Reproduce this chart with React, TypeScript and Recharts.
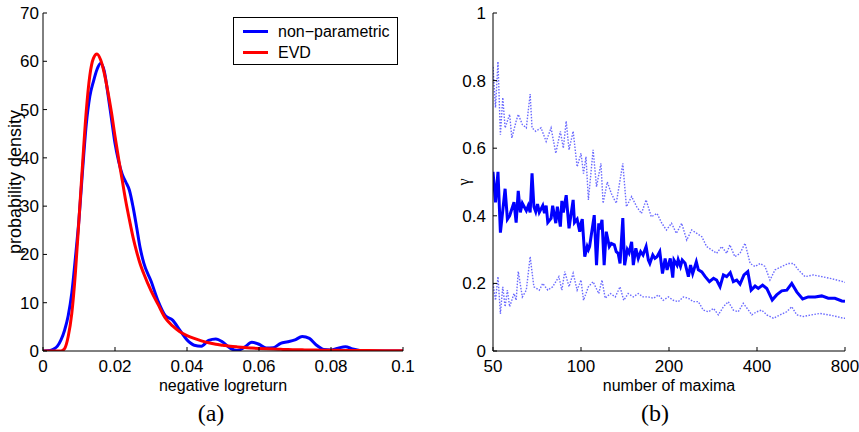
import { LineChart, Line, XAxis, YAxis, Legend, Label } from 'recharts'

const SANS = '"Liberation Sans", Arial, Helvetica, sans-serif'
const SERIF = '"Liberation Serif", "Times New Roman", serif'

// (a) density of negative logreturns: kernel estimate vs fitted EVD
const logreturn = [
  0, 0.002, 0.003, 0.004, 0.005, 0.006, 0.007, 0.008, 0.009,
  0.01, 0.011, 0.012, 0.013, 0.014, 0.015, 0.016, 0.017, 0.018, 0.019, 0.02,
  0.021, 0.022, 0.023, 0.024, 0.025, 0.026, 0.027, 0.028,
  0.03, 0.032, 0.034, 0.036, 0.038, 0.04, 0.042, 0.044, 0.046, 0.048, 0.05,
  0.052, 0.054, 0.056, 0.058, 0.06, 0.062, 0.064, 0.066, 0.068, 0.07,
  0.072, 0.074, 0.076, 0.078, 0.08, 0.082, 0.084, 0.086, 0.088, 0.09,
  0.095, 0.1,
]
const nonParametric = [
  0, 0.1, 0.4, 1.0, 2.3, 4.3, 7.3, 12.0, 19.3,
  27.3, 37.5, 46.8, 52.7, 55.8, 58.3, 59.6, 58.0, 53.4, 48.2, 43.0,
  39.3, 36.6, 35.0, 33.3, 29.9, 25.7, 21.3, 18.2,
  14.5, 10.3, 7.3, 6.4, 4.3, 2.3, 1.2, 1.0, 2.2, 2.5, 1.8,
  0.6, 0.1, 0.8, 1.8, 1.4, 0.6, 0.7, 1.6, 1.9, 2.3,
  3.0, 2.6, 1.2, 0.3, 0.2, 0.6, 0.9, 0.4, 0.1, 0,
  0, 0,
]
const evd = [
  0, 0, 0, 0, 0, 0.5, 3.0, 7.8, 16.2,
  27.3, 38.8, 49.5, 57.0, 60.6, 61.5, 60.3, 57.6, 53.8, 49.5, 44.5,
  39.8, 35.4, 31.0, 27.2, 23.6, 20.6, 18.0, 16.0,
  12.5, 9.6, 6.8, 5.2, 4.0, 3.2, 2.6, 2.1, 1.7, 1.4, 1.2,
  1.0, 0.85, 0.72, 0.62, 0.53, 0.46, 0.4, 0.35, 0.3, 0.27,
  0.24, 0.21, 0.19, 0.17, 0.15, 0.13, 0.12, 0.1, 0.09, 0.08,
  0.06, 0.05,
]
const densityTicksX = [0, 0.02, 0.04, 0.06, 0.08, 0.1]
const densityTicksY = [0, 10, 20, 30, 40, 50, 60, 70]
const legendOrder = ['np', 'evd']

// (b) gamma estimate vs number of maxima, with dotted bounds
const maximaN = [
  50, 51, 52, 53, 55, 56, 57, 59, 60, 61, 62, 63, 65, 66, 67, 68, 69, 70, 71, 72,
  74, 75, 76, 77, 79, 80, 82, 83, 85, 86, 87, 89, 91, 94, 95, 97, 99, 100, 101, 103,
  105, 106, 107, 111, 113, 115, 116, 118, 120, 122, 125, 127, 130, 132, 134, 136, 139, 141, 144, 146,
  149, 151, 154, 157, 160, 163, 167, 170, 172, 176, 179, 182, 186, 190, 194, 197, 202, 206, 208, 213,
  215, 219, 222, 227, 233, 237, 241, 248, 252, 259, 266, 275, 284, 291, 299, 307, 315, 324, 332, 341,
  350, 361, 372, 382, 394, 404, 418, 432, 451, 467, 486, 506, 526, 547, 573, 599, 632, 666, 701, 739,
  780, 800,
]
const gamma = [
  0.53, 0.44, 0.53, 0.35, 0.48, 0.39, 0.4, 0.44, 0.38, 0.474, 0.41, 0.437, 0.415, 0.43, 0.41, 0.526, 0.427, 0.412, 0.435, 0.41,
  0.43, 0.408, 0.43, 0.38, 0.392, 0.43, 0.378, 0.427, 0.368, 0.444, 0.41, 0.461, 0.363, 0.447, 0.38, 0.39, 0.353, 0.378, 0.39, 0.279,
  0.309, 0.3, 0.309, 0.402, 0.254, 0.378, 0.36, 0.388, 0.254, 0.353, 0.309, 0.318, 0.314, 0.294, 0.289, 0.259, 0.393, 0.254, 0.3, 0.29,
  0.323, 0.254, 0.304, 0.274, 0.294, 0.284, 0.309, 0.269, 0.259, 0.284, 0.274, 0.279, 0.294, 0.229, 0.274, 0.24, 0.274, 0.217, 0.269, 0.254,
  0.27, 0.25, 0.269, 0.26, 0.22, 0.254, 0.229, 0.264, 0.24, 0.234, 0.22, 0.205, 0.215, 0.21, 0.19, 0.225, 0.22, 0.232, 0.205, 0.21,
  0.198, 0.225, 0.235, 0.18, 0.192, 0.185, 0.195, 0.185, 0.151, 0.166, 0.178, 0.18, 0.2, 0.175, 0.154, 0.16, 0.16, 0.163, 0.156, 0.156,
  0.148, 0.147,
]
const upperN = [
  50, 51, 52, 53, 54, 55, 57, 58, 60, 61, 63, 65, 67, 68, 70, 73, 76, 79, 82, 85,
  87, 89, 91, 94, 97, 100, 102, 104, 106, 110, 113, 117, 119, 123, 127, 132, 139, 143, 149, 155,
  161, 167, 174, 182, 189, 196, 204, 212, 221, 230, 239, 249, 259, 269, 280, 291, 303, 315, 323, 336,
  350, 364, 379, 394, 410, 426, 443, 461, 486, 512, 533, 554, 584, 623, 666, 711, 749, 790, 800,
]
const gammaUpper = [
  0.84, 0.72, 0.856, 0.64, 0.75, 0.66, 0.7, 0.63, 0.68, 0.7, 0.67, 0.66, 0.76, 0.66, 0.65, 0.66, 0.62, 0.66, 0.585, 0.65,
  0.6, 0.68, 0.595, 0.65, 0.545, 0.585, 0.525, 0.575, 0.447, 0.595, 0.486, 0.555, 0.437, 0.5, 0.466, 0.437, 0.555, 0.427, 0.457, 0.427,
  0.407, 0.447, 0.397, 0.407, 0.378, 0.358, 0.378, 0.348, 0.378, 0.328, 0.358, 0.348, 0.338, 0.309, 0.299, 0.289, 0.309, 0.289, 0.314, 0.279,
  0.289, 0.319, 0.259, 0.25, 0.259, 0.25, 0.21, 0.24, 0.25, 0.259, 0.259, 0.24, 0.22, 0.225, 0.22, 0.215, 0.21, 0.205, 0.203,
]
const lowerN = [
  50, 51, 52, 53, 54, 55, 56, 57, 59, 60, 61, 63, 65, 67, 69, 72, 74, 77, 80, 84,
  86, 88, 91, 94, 97, 100, 102, 106, 110, 115, 118, 121, 126, 131, 136, 140, 145, 151, 157, 163,
  170, 177, 184, 191, 199, 207, 215, 224, 233, 242, 252, 262, 273, 284, 295, 307, 319, 332, 345, 359,
  374, 384, 399, 415, 432, 455, 480, 505, 526, 547, 576, 615, 657, 702, 749, 790, 800,
]
const gammaLower = [
  0.2, 0.15, 0.22, 0.11, 0.19, 0.131, 0.18, 0.131, 0.17, 0.15, 0.235, 0.16, 0.18, 0.279, 0.19, 0.18, 0.2, 0.18, 0.19, 0.22,
  0.18, 0.235, 0.19, 0.23, 0.18, 0.21, 0.15, 0.19, 0.205, 0.17, 0.21, 0.156, 0.17, 0.16, 0.19, 0.15, 0.17, 0.16, 0.17, 0.16,
  0.16, 0.156, 0.166, 0.15, 0.16, 0.15, 0.146, 0.16, 0.156, 0.146, 0.146, 0.121, 0.116, 0.126, 0.107, 0.131, 0.146, 0.121, 0.116, 0.141,
  0.121, 0.107, 0.116, 0.121, 0.107, 0.097, 0.107, 0.116, 0.131, 0.107, 0.102, 0.107, 0.111, 0.107, 0.102, 0.097, 0.097,
]
const maximaTicks = [50, 100, 200, 400, 800]
const gammaTicks = [0, 0.2, 0.4, 0.6, 0.8, 1]

const densityData = logreturn.map((x, i) => ({ x, np: nonParametric[i], evd: evd[i] }))
const gammaData = maximaN.map((n, i) => ({ n, g: gamma[i] }))
const upperData = upperN.map((n, i) => ({ n, g: gammaUpper[i] }))
const lowerData = lowerN.map((n, i) => ({ n, g: gammaLower[i] }))

const tickStyle = { fill: '#000', fontSize: 17, fontFamily: SANS }
const axisLine = { stroke: '#000', strokeWidth: 1 }
const labelStyle = { fontSize: 16, fontFamily: SANS, fill: '#000' }

function BoxLegend({ payload }: any) {
  const items = [...(payload || [])].sort(
    (a: any, b: any) => legendOrder.indexOf(a.dataKey) - legendOrder.indexOf(b.dataKey)
  )
  return (
    <div
      style={{
        width: 165,
        height: 48,
        boxSizing: 'border-box',
        border: '1px solid #000',
        background: '#fff',
        padding: '3px 0 0 9px',
        fontFamily: SANS,
        fontSize: 16,
        color: '#000',
      }}
    >
      {items.map((p: any) => (
        <div key={p.value} style={{ display: 'flex', alignItems: 'center', height: 21 }}>
          <span style={{ width: 25, height: 3, background: p.color, marginRight: 10 }} />
          <span style={{ lineHeight: '21px' }}>{p.value}</span>
        </div>
      ))}
    </div>
  )
}

export default function App() {
  return (
    <div style={{ position: 'absolute', left: 0, top: 0, width: 859, height: 432, background: '#fff' }}>
      <div style={{ position: 'absolute', left: 0, top: 0 }}>
        <LineChart width={430} height={432} data={densityData} margin={{ top: 13, right: 27, bottom: 0, left: 0 }}>
          <XAxis
            dataKey="x"
            type="number"
            domain={[0, 0.1]}
            ticks={densityTicksX}
            allowDataOverflow
            height={81}
            tickSize={-4}
            tickMargin={13}
            tick={tickStyle}
            axisLine={axisLine}
            tickLine={{ stroke: '#000' }}
          >
            <Label value="negative logreturn" position="insideBottom" offset={41} style={labelStyle} />
          </XAxis>
          <XAxis
            xAxisId="top"
            orientation="top"
            dataKey="x"
            type="number"
            domain={[0, 0.1]}
            ticks={densityTicksX}
            allowDataOverflow
            height={0}
            tickSize={-4}
            tick={false}
            axisLine={axisLine}
            tickLine={{ stroke: '#000' }}
          />
          <YAxis
            type="number"
            domain={[0, 70]}
            ticks={densityTicksY}
            allowDataOverflow
            width={43}
            tickSize={-4}
            tickMargin={8}
            tick={tickStyle}
            axisLine={axisLine}
            tickLine={{ stroke: '#000' }}
          >
            <Label
              value="probability density"
              angle={-90}
              position="insideLeft"
              offset={15}
              style={{ ...labelStyle, fontSize: 18, textAnchor: 'middle' }}
            />
          </YAxis>
          <YAxis
            yAxisId="right"
            orientation="right"
            type="number"
            domain={[0, 70]}
            ticks={densityTicksY}
            allowDataOverflow
            width={0}
            tickSize={-4}
            tick={false}
            axisLine={axisLine}
            tickLine={{ stroke: '#000' }}
          />
          <Legend
            layout="vertical"
            align="center"
            verticalAlign="middle"
            content={<BoxLegend />}
            wrapperStyle={{ left: 233, top: 17, width: 165, height: 48 }}
          />
          <Line
            name="non−parametric"
            dataKey="np"
            type="monotone"
            stroke="#0000ff"
            strokeWidth={3}
            dot={false}
            isAnimationActive={false}
          />
          <Line
            name="EVD"
            dataKey="evd"
            type="monotone"
            stroke="#ff0000"
            strokeWidth={3}
            dot={false}
            isAnimationActive={false}
          />
        </LineChart>
      </div>

      <div style={{ position: 'absolute', left: 430, top: 0 }}>
        <LineChart width={429} height={432} margin={{ top: 13, right: 14, bottom: 0, left: 0 }}>
          <XAxis
            dataKey="n"
            type="number"
            scale="log"
            domain={[50, 800]}
            ticks={maximaTicks}
            allowDataOverflow
            height={81}
            tickSize={-4}
            tickMargin={13}
            tick={tickStyle}
            axisLine={axisLine}
            tickLine={{ stroke: '#000' }}
          >
            <Label value="number of maxima" position="insideBottom" offset={41} style={labelStyle} />
          </XAxis>
          <XAxis
            xAxisId="top"
            orientation="top"
            dataKey="n"
            type="number"
            scale="log"
            domain={[50, 800]}
            ticks={maximaTicks}
            allowDataOverflow
            height={0}
            tickSize={-4}
            tick={false}
            axisLine={axisLine}
            tickLine={{ stroke: '#000' }}
          />
          <YAxis
            type="number"
            domain={[0, 1]}
            ticks={gammaTicks}
            allowDataOverflow
            width={63}
            tickSize={-4}
            tickMargin={11}
            tick={tickStyle}
            axisLine={axisLine}
            tickLine={{ stroke: '#000' }}
          >
            <Label value="γ" angle={-90} position="insideLeft" offset={33} style={{ fontSize: 16, fontFamily: SERIF, fill: '#000', textAnchor: 'middle' }} />
          </YAxis>
          <YAxis
            yAxisId="right"
            orientation="right"
            type="number"
            domain={[0, 1]}
            ticks={gammaTicks}
            allowDataOverflow
            width={0}
            tickSize={-4}
            tick={false}
            axisLine={axisLine}
            tickLine={{ stroke: '#000' }}
          />
          <Line
            data={upperData}
            dataKey="g"
            type="linear"
            stroke="#1a1aff"
            strokeOpacity={0.65}
            strokeWidth={1.4}
            strokeDasharray="1.5 1.5"
            dot={false}
            isAnimationActive={false}
          />
          <Line
            data={lowerData}
            dataKey="g"
            type="linear"
            stroke="#1a1aff"
            strokeOpacity={0.65}
            strokeWidth={1.4}
            strokeDasharray="1.5 1.5"
            dot={false}
            isAnimationActive={false}
          />
          <Line
            data={gammaData}
            dataKey="g"
            type="linear"
            stroke="#0000ff"
            strokeWidth={3}
            dot={false}
            isAnimationActive={false}
          />
        </LineChart>
      </div>

      <svg width={859} height={432} style={{ position: 'absolute', left: 0, top: 0, pointerEvents: 'none' }}>
        <text x={211} y={421} textAnchor="middle" fontFamily={SERIF} fontSize={24} fill="#000">(a)</text>
        <text x={655} y={421} textAnchor="middle" fontFamily={SERIF} fontSize={24} fill="#000">(b)</text>
      </svg>
    </div>
  )
}
